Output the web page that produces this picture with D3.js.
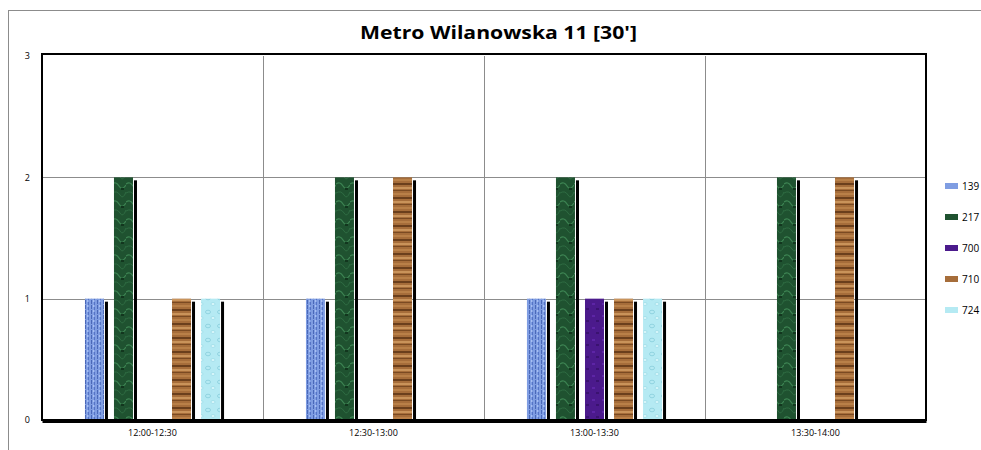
<!DOCTYPE html>
<html>
<head>
<meta charset="utf-8">
<script src="https://cdn.jsdelivr.net/npm/d3@7"></script>
<style>
  body { margin: 0; background: #fff; }
  svg { display: block; }
</style>
</head>
<body>
<div id="chart"></div>
<script>
const categories = ["12:00-12:30", "12:30-13:00", "13:00-13:30", "13:30-14:00"];
const seriesNames = ["139", "217", "700", "710", "724"];
const s139 = [1, 1, 1, 0];
const s217 = [2, 2, 2, 2];
const s700 = [0, 0, 1, 0];
const s710 = [1, 2, 1, 2];
const s724 = [1, 0, 1, 0];
const yTicks = [0, 1, 2, 3];
const title = "Metro Wilanowska 11 [30']";

const seriesValues = [s139, s217, s700, s710, s724];

const width = 981, height = 450;
const plot = { left: 42, right: 926, top: 56, bottom: 420 };

const svg = d3.select("#chart").append("svg")
  .attr("width", width)
  .attr("height", height);

// textures for the bars
const defs = svg.append("defs");

// 139 - blue woven
const p139 = defs.append("pattern").attr("id", "tex139")
  .attr("patternUnits", "userSpaceOnUse").attr("width", 6).attr("height", 5);
p139.append("rect").attr("width", 6).attr("height", 5).attr("fill", "#7f9de2");
p139.append("rect").attr("x", 1).attr("y", 0).attr("width", 1).attr("height", 4).attr("fill", "#4a68b8");
p139.append("rect").attr("x", 4).attr("y", 2).attr("width", 1).attr("height", 3).attr("fill", "#5574c6");
p139.append("rect").attr("x", 3).attr("y", 0).attr("width", 1).attr("height", 2).attr("fill", "#a9c0f2");

// 217 - green marble
const p217 = defs.append("pattern").attr("id", "tex217")
  .attr("patternUnits", "userSpaceOnUse").attr("width", 14).attr("height", 18);
p217.append("rect").attr("width", 14).attr("height", 18).attr("fill", "#1f5230");
p217.append("path").attr("d", "M0 4 Q4 1 7 6 T14 5").attr("stroke", "#3c8452").attr("stroke-width", 1.2).attr("fill", "none");
p217.append("path").attr("d", "M0 13 Q5 10 8 15 T14 12").attr("stroke", "#2d6b41").attr("stroke-width", 1).attr("fill", "none");
p217.append("rect").attr("x", 9).attr("y", 8).attr("width", 3).attr("height", 2).attr("fill", "#12361e");

// 700 - purple
const p700 = defs.append("pattern").attr("id", "tex700")
  .attr("patternUnits", "userSpaceOnUse").attr("width", 10).attr("height", 12);
p700.append("rect").attr("width", 10).attr("height", 12).attr("fill", "#4b1a8c");
p700.append("rect").attr("x", 2).attr("y", 3).attr("width", 3).attr("height", 2).attr("fill", "#5d25a6");
p700.append("rect").attr("x", 6).attr("y", 8).attr("width", 3).attr("height", 2).attr("fill", "#3a1270");

// 710 - wood stripes
const p710 = defs.append("pattern").attr("id", "tex710")
  .attr("patternUnits", "userSpaceOnUse").attr("width", 20).attr("height", 14);
p710.append("rect").attr("width", 20).attr("height", 14).attr("fill", "#a66d3a");
p710.append("rect").attr("y", 1).attr("width", 20).attr("height", 2).attr("fill", "#6b3f1c");
p710.append("rect").attr("y", 5).attr("width", 20).attr("height", 2).attr("fill", "#c9935a");
p710.append("rect").attr("y", 8).attr("width", 20).attr("height", 1).attr("fill", "#7a4a22");
p710.append("rect").attr("y", 11).attr("width", 20).attr("height", 2).attr("fill", "#b98048");

// 724 - light water
const p724 = defs.append("pattern").attr("id", "tex724")
  .attr("patternUnits", "userSpaceOnUse").attr("width", 12).attr("height", 14);
p724.append("rect").attr("width", 12).attr("height", 14).attr("fill", "#b5eaf3");
p724.append("ellipse").attr("cx", 4).attr("cy", 4).attr("rx", 2.5).attr("ry", 1.8).attr("fill", "none").attr("stroke", "#86cddb").attr("stroke-width", 0.8);
p724.append("ellipse").attr("cx", 9).attr("cy", 10).attr("rx", 2).attr("ry", 1.5).attr("fill", "#d9f7fb").attr("stroke", "#92d6e2").attr("stroke-width", 0.6);

const fills = {
  "139": "url(#tex139)", "217": "url(#tex217)", "700": "url(#tex700)",
  "710": "url(#tex710)", "724": "url(#tex724)"
};
const swatch = { "139": "#7f9de2", "217": "#1f5230", "700": "#4b1a8c", "710": "#a66d3a", "724": "#b5eaf3" };

// outer chart border (clipped by window)
svg.append("rect")
  .attr("x", 8.5).attr("y", 10.5)
  .attr("width", 1000).attr("height", 500)
  .attr("fill", "none").attr("stroke", "#8c8c8c").attr("stroke-width", 1);

// title
svg.append("text")
  .attr("x", 360).attr("y", 39)
  .attr("font-family", "'Open Sans', sans-serif")
  .attr("font-weight", "bold")
  .attr("font-size", 17)
  .attr("textLength", 277)
  .attr("lengthAdjust", "spacingAndGlyphs")
  .text(title);

const x0 = d3.scaleBand()
  .domain(categories)
  .range([plot.left, plot.right]);

const x1 = d3.scaleBand()
  .domain(seriesNames)
  .range([0, x0.bandwidth()])
  .paddingInner(0.345)
  .paddingOuter(1.48);

const y = d3.scaleLinear()
  .domain([0, 3])
  .range([plot.bottom, plot.top]);

// horizontal gridlines
svg.append("g").selectAll("line")
  .data(yTicks.filter(d => d > 0 && d < 3))
  .join("line")
  .attr("x1", plot.left).attr("x2", plot.right)
  .attr("y1", d => Math.round(y(d)) + 0.5).attr("y2", d => Math.round(y(d)) + 0.5)
  .attr("stroke", "#8c8c8c");

// category separators
svg.append("g").selectAll("line")
  .data(categories.slice(1))
  .join("line")
  .attr("x1", d => Math.round(x0(d)) + 0.5).attr("x2", d => Math.round(x0(d)) + 0.5)
  .attr("y1", plot.top).attr("y2", plot.bottom)
  .attr("stroke", "#8c8c8c");

// bars
const barData = [];
categories.forEach((c, ci) => {
  seriesNames.forEach((s, si) => {
    const v = seriesValues[si][ci];
    if (v > 0) barData.push({ cat: c, series: s, value: v });
  });
});

const bars = svg.append("g");
bars.selectAll("rect.shadow")
  .data(barData)
  .join("rect")
  .attr("class", "shadow")
  .attr("x", d => x0(d.cat) + x1(d.series) + x1.bandwidth() + 1)
  .attr("y", d => y(d.value) + 3)
  .attr("width", 3)
  .attr("height", d => plot.bottom - y(d.value) - 3)
  .attr("fill", "#000");

bars.selectAll("rect.bar")
  .data(barData)
  .join("rect")
  .attr("class", "bar")
  .attr("x", d => x0(d.cat) + x1(d.series))
  .attr("y", d => y(d.value))
  .attr("width", x1.bandwidth())
  .attr("height", d => plot.bottom - y(d.value))
  .attr("fill", d => fills[d.series]);

// plot border
svg.append("rect")
  .attr("x", plot.left).attr("y", plot.top - 2)
  .attr("width", plot.right - plot.left).attr("height", plot.bottom - plot.top + 2)
  .attr("fill", "none").attr("stroke", "#000").attr("stroke-width", 2);

// bottom axis
const xAxis = svg.append("g")
  .attr("transform", `translate(0,${plot.bottom + 1})`)
  .call(d3.axisBottom(x0).tickSize(0).tickPadding(9));
xAxis.select(".domain").attr("stroke", "#000").attr("stroke-width", 3);
xAxis.selectAll("text")
  .attr("font-family", "'Open Sans', sans-serif")
  .attr("font-size", 9)
  .attr("fill", "#000");

// left axis labels
const yAxis = svg.append("g")
  .attr("transform", `translate(${plot.left},0)`)
  .call(d3.axisLeft(y).tickValues(yTicks).tickSize(0).tickPadding(12).tickFormat(d3.format("d")));
yAxis.select(".domain").remove();
yAxis.selectAll("text")
  .attr("font-family", "'Open Sans', sans-serif")
  .attr("font-size", 9)
  .attr("fill", "#000");

// legend
const legend = svg.append("g").selectAll("g")
  .data(seriesNames)
  .join("g")
  .attr("transform", (d, i) => `translate(945,${186 + i * 31})`);
legend.append("rect")
  .attr("x", 0).attr("y", -3)
  .attr("width", 13).attr("height", 6)
  .attr("fill", d => swatch[d]);
legend.append("text")
  .attr("x", 17).attr("y", 3.5)
  .attr("font-family", "'Open Sans', sans-serif")
  .attr("font-size", 10)
  .attr("fill", "#000")
  .text(d => d);
</script>
</body>
</html>
